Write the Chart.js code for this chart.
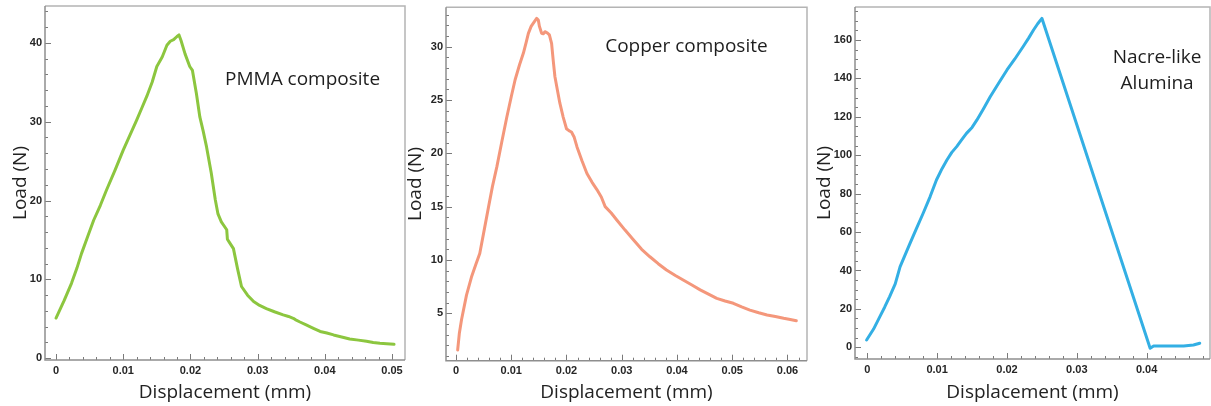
<!DOCTYPE html>
<html>
<head>
<meta charset="utf-8">
<title>Load vs displacement</title>
<script src="https://cdn.jsdelivr.net/npm/chart.js@4.4.1/dist/chart.umd.min.js"></script>
<style>
  html, body { margin: 0; padding: 0; background: #fff; }
  #wrap { position: relative; width: 1211px; height: 406px; overflow: hidden; }
  #wrap canvas { position: absolute; left: 0; top: 0; }
</style>
</head>
<body>
<div id="wrap">
  <canvas id="pmmaChart" width="1211" height="406"></canvas>
  <canvas id="copperChart" width="1211" height="406"></canvas>
  <canvas id="aluminaChart" width="1211" height="406"></canvas>
</div>
<script>
// displacement (mm), load (N)
const pmmaCurve = [
  [0, 5.1], [0.0012, 7.3], [0.0023, 9.5], [0.0031, 11.4], [0.0038, 13.3], [0.0047, 15.4],
  [0.0056, 17.5], [0.0066, 19.4], [0.0075, 21.3], [0.0088, 23.9], [0.0100, 26.4], [0.0110, 28.3],
  [0.0120, 30.2], [0.0128, 31.8], [0.0135, 33.2], [0.0143, 35.0], [0.0150, 37.0], [0.0158, 38.2],
  [0.0165, 39.7], [0.0170, 40.2], [0.0175, 40.4], [0.0180, 40.8], [0.0183, 41.0], [0.0186, 40.3],
  [0.0192, 38.6], [0.0199, 37.0], [0.0203, 36.5], [0.0209, 33.5], [0.0214, 30.6], [0.0219, 28.8],
  [0.0224, 26.8], [0.0231, 23.5], [0.0237, 20.1], [0.0241, 18.3], [0.0246, 17.3], [0.0254, 16.3],
  [0.0255, 15.1], [0.0258, 14.7], [0.0264, 13.9], [0.0270, 11.4], [0.0276, 9.1], [0.0285, 8.0],
  [0.0294, 7.2], [0.0303, 6.7], [0.0313, 6.3], [0.0325, 5.9], [0.0338, 5.5], [0.0346, 5.3],
  [0.0353, 5.07], [0.0356, 4.9], [0.0363, 4.6], [0.0373, 4.2], [0.0383, 3.8], [0.0393, 3.4],
  [0.0403, 3.2], [0.0413, 2.96], [0.0425, 2.7], [0.0437, 2.45], [0.0450, 2.3], [0.0462, 2.15],
  [0.0472, 2.0], [0.0482, 1.9], [0.0492, 1.85], [0.0503, 1.77]
];

const copperCurve = [
  [0.0003, 1.56], [0.0006, 3.1], [0.0010, 4.4], [0.0019, 6.7], [0.0028, 8.4], [0.0036, 9.6],
  [0.0043, 10.6], [0.0051, 12.8], [0.0059, 15.0], [0.0066, 16.9], [0.0074, 18.75], [0.0083, 21.1],
  [0.0092, 23.4], [0.0100, 25.3], [0.0107, 26.9], [0.0115, 28.3], [0.0122, 29.4], [0.0127, 30.4],
  [0.0131, 31.25], [0.0136, 31.9], [0.0140, 32.2], [0.0146, 32.65], [0.0149, 32.5], [0.0151, 31.9],
  [0.0155, 31.25], [0.0158, 31.2], [0.0161, 31.4], [0.0165, 31.3], [0.0169, 31.1], [0.0173, 30.3],
  [0.0176, 28.7], [0.0179, 27.2], [0.0184, 25.8], [0.0188, 24.7], [0.0194, 23.4], [0.0200, 22.3],
  [0.0205, 22.1], [0.0209, 22.0], [0.0214, 21.5], [0.0219, 20.6], [0.0228, 19.3], [0.0237, 18.1],
  [0.0246, 17.3], [0.0255, 16.6], [0.0263, 15.9], [0.0270, 15.0], [0.0281, 14.4], [0.0291, 13.75],
  [0.0306, 12.8], [0.0321, 11.9], [0.0336, 11.0], [0.0351, 10.3], [0.0366, 9.65], [0.0381, 9.06],
  [0.0397, 8.55], [0.0412, 8.1], [0.0427, 7.65], [0.0442, 7.2], [0.0457, 6.8], [0.0472, 6.4],
  [0.0487, 6.15], [0.0502, 5.94], [0.0517, 5.6], [0.0532, 5.3], [0.0548, 5.05], [0.0563, 4.84],
  [0.0578, 4.7], [0.0593, 4.53], [0.0605, 4.42], [0.0616, 4.3]
];

const aluminaCurve = [
  [-0.0001, 3.8], [0.0009, 9.5], [0.0018, 16], [0.0025, 21], [0.0032, 26.4], [0.0040, 33],
  [0.0047, 42], [0.0054, 48], [0.0061, 54], [0.0070, 61.5], [0.0080, 69.8], [0.0090, 78.5],
  [0.0099, 87.1], [0.0107, 93], [0.0114, 97.5], [0.0121, 101.5], [0.0128, 104.5], [0.0135, 108],
  [0.0142, 111.4], [0.0150, 114.5], [0.0157, 118.4], [0.0166, 124], [0.0176, 130.5], [0.0188, 137.5],
  [0.0200, 144.4], [0.0211, 150], [0.0223, 156.5], [0.0231, 161], [0.0238, 165.2], [0.0244, 168.5],
  [0.0250, 171.3], [0.0405, -0.5], [0.0410, 0.7], [0.0453, 0.7], [0.0467, 1.2], [0.0476, 2.1]
];

// tick labels
const pmmaXTicks = [0, 0.01, 0.02, 0.03, 0.04, 0.05];
const pmmaYTicks = [0, 10, 20, 30, 40];
const copperXTicks = [0, 0.01, 0.02, 0.03, 0.04, 0.05, 0.06];
const copperYTicks = [5, 10, 15, 20, 25, 30];
const aluminaXTicks = [0, 0.01, 0.02, 0.03, 0.04];
const aluminaYTicks = [0, 20, 40, 60, 80, 100, 120, 140, 160];

const W = 1211, H = 406;
const TITLE_FONT = { family: '"Open Sans", sans-serif', size: 19 };
const TICK_FONT = { family: '"Liberation Sans", Arial, sans-serif', size: 11, weight: 'bold' };

const panels = [
  {
    id: 'pmmaChart', curve: pmmaCurve, color: '#8cc63f',
    xTicks: pmmaXTicks, yTicks: pmmaYTicks, xMinor: 0.002, yMinor: 2,
    xRange: [-0.00164, 0.05193], yRange: [-0.22, 44.67],
    box: { scaleLeft: 6.6, left: 45, right: 405, top: 6, bottom: 360 },
    note: { lines: ['PMMA composite'], x: 0.02515, y: 34.7, align: 'left' }
  },
  {
    id: 'copperChart', curve: copperCurve, color: '#f4977b',
    xTicks: copperXTicks, yTicks: copperYTicks, xMinor: 0.002, yMinor: 1,
    xRange: [-0.00181, 0.06353], yRange: [0.555, 33.69],
    box: { scaleLeft: 401.6, left: 446, right: 807, top: 7.3, bottom: 360.7 },
    note: { lines: ['Copper composite'], x: 0.027, y: 29.5, align: 'left' }
  },
  {
    id: 'aluminaChart', curve: aluminaCurve, color: '#33afe4',
    xTicks: aluminaXTicks, yTicks: aluminaYTicks, xMinor: 0.002, yMinor: 5,
    xRange: [-0.00176, 0.04907], yRange: [-6.09, 177.2],
    box: { scaleLeft: 810.1, left: 855, right: 1210, top: 7, bottom: 359 },
    note: { lines: ['Nacre-like', 'Alumina'], x: 0.0415, y: 148, align: 'center', gap: 26 }
  }
];

// frame, inward tick marks and the in-plot caption
const framePlugin = {
  id: 'framePlugin',
  beforeDatasetsDraw(chart, args, opts) {
    const { ctx, chartArea: a, scales: { x, y } } = chart;
    ctx.save();
    ctx.lineCap = 'butt';
    ctx.lineWidth = 1.5;
    ctx.strokeStyle = '#b4b4b4';
    ctx.beginPath();
    ctx.moveTo(a.left, a.top); ctx.lineTo(a.right, a.top); ctx.lineTo(a.right, a.bottom);
    ctx.stroke();

    ctx.lineWidth = 1;
    ctx.strokeStyle = '#7a7a7a';
    const eps = 1e-9;
    for (let v = Math.ceil(x.min / opts.xMinor) * opts.xMinor; v <= x.max + eps; v += opts.xMinor) {
      const major = opts.xTicks.some(t => Math.abs(t - v) < opts.xMinor / 10);
      const px = Math.round(x.getPixelForValue(v)) + 0.5;
      ctx.beginPath(); ctx.moveTo(px, a.bottom); ctx.lineTo(px, a.bottom - (major ? 6 : 3)); ctx.stroke();
    }
    for (let v = Math.ceil(y.min / opts.yMinor) * opts.yMinor; v <= y.max + eps; v += opts.yMinor) {
      const major = opts.yTicks.some(t => Math.abs(t - v) < opts.yMinor / 10);
      const py = Math.round(y.getPixelForValue(v)) + 0.5;
      ctx.beginPath(); ctx.moveTo(a.left, py); ctx.lineTo(a.left + (major ? 6 : 3), py); ctx.stroke();
    }

    ctx.lineWidth = 1.5;
    ctx.strokeStyle = '#8e8e8e';
    ctx.beginPath();
    ctx.moveTo(a.left, a.top); ctx.lineTo(a.left, a.bottom); ctx.lineTo(a.right, a.bottom);
    ctx.stroke();
    ctx.restore();
  },
  afterDatasetsDraw(chart, args, opts) {
    const { ctx, scales: { x, y } } = chart;
    const n = opts.note;
    ctx.save();
    ctx.font = '19px "Open Sans", sans-serif';
    ctx.fillStyle = '#1e1e1e';
    ctx.textAlign = n.align;
    ctx.textBaseline = 'alphabetic';
    const px = x.getPixelForValue(n.x);
    const py = y.getPixelForValue(n.y);
    n.lines.forEach((t, i) => ctx.fillText(t, px, py + i * (n.gap || 0)));
    ctx.restore();
  }
};

function buildPanel(p) {
  const b = p.box;
  return new Chart(document.getElementById(p.id), {
    type: 'scatter',
    data: {
      datasets: [{
        data: p.curve.map(([dx, load]) => ({ x: dx, y: load })),
        showLine: true,
        borderColor: p.color,
        borderWidth: 3,
        borderJoinStyle: 'round',
        borderCapStyle: 'round',
        pointRadius: 0,
        fill: false,
        tension: 0
      }]
    },
    options: {
      responsive: false,
      animation: false,
      events: [],
      layout: { padding: { left: b.scaleLeft, right: W - b.right, top: b.top, bottom: 0 } },
      plugins: {
        legend: { display: false },
        tooltip: { enabled: false },
        framePlugin: { xTicks: p.xTicks, yTicks: p.yTicks, xMinor: p.xMinor, yMinor: p.yMinor, note: p.note }
      },
      scales: {
        x: {
          type: 'linear', min: p.xRange[0], max: p.xRange[1],
          grid: { display: false, drawTicks: false },
          border: { display: false },
          ticks: {
            autoSkip: false, maxRotation: 0, padding: 4,
            font: TICK_FONT, color: '#262626',
            callback: v => String(v)
          },
          afterBuildTicks: s => { s.ticks = p.xTicks.map(v => ({ value: v })); },
          afterFit: s => {
            s.height = H - b.bottom;
            s.paddingLeft = s.paddingRight = s.paddingTop = s.paddingBottom = 0;
          },
          title: {
            display: true, text: 'Displacement (mm)', font: TITLE_FONT, color: '#222',
            padding: { top: 0, bottom: 2 }
          }
        },
        y: {
          type: 'linear', min: p.yRange[0], max: p.yRange[1],
          grid: { display: false, drawTicks: false },
          border: { display: false },
          ticks: {
            autoSkip: false, padding: 3,
            font: TICK_FONT, color: '#262626',
            callback: v => String(v)
          },
          afterBuildTicks: s => { s.ticks = p.yTicks.map(v => ({ value: v })); },
          afterFit: s => {
            s.width = b.left - b.scaleLeft;
            s.paddingLeft = s.paddingRight = s.paddingTop = s.paddingBottom = 0;
          },
          title: {
            display: true, text: 'Load (N)', font: TITLE_FONT, color: '#222',
            padding: { top: 3, bottom: 0 }
          }
        }
      }
    },
    plugins: [framePlugin]
  });
}

panels.forEach(buildPanel);
</script>
</body>
</html>
